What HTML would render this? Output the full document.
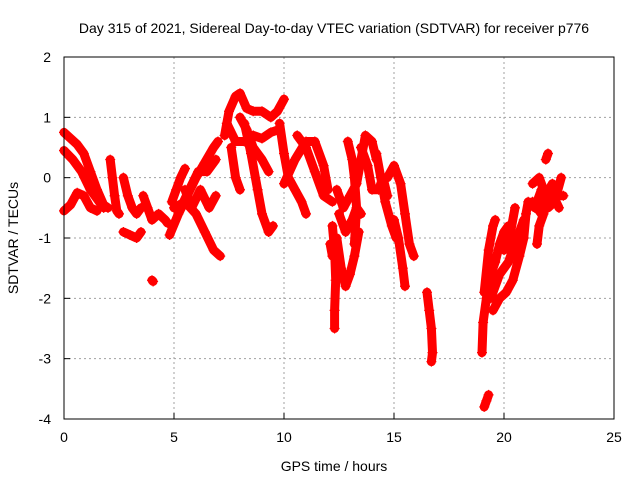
<!DOCTYPE html>
<html><head><meta charset="utf-8"><style>
body{margin:0;background:#fff}
svg{display:block;font-family:"Liberation Sans",sans-serif}
</style></head><body>
<svg id="chart" width="640" height="480" viewBox="0 0 640 480">
<rect width="640" height="480" fill="#fff"/>
<text x="334" y="33" font-size="14" text-anchor="middle">Day 315 of 2021, Sidereal Day-to-day VTEC variation (SDTVAR) for receiver p776</text>
<text x="334" y="471" font-size="14" text-anchor="middle">GPS time / hours</text>
<text x="0" y="0" font-size="14" text-anchor="middle" transform="translate(18,238) rotate(-90)">SDTVAR / TECUs</text>
<g id="grid"></g><g id="marks"></g><g id="axes"></g>
</svg>
<script>
const xTicks=[0,5,10,15,20,25];
const yTicks=[-4,-3,-2,-1,0,1,2];
const tracks=[
[[0,0.75],[0.3,0.65],[0.6,0.55],[0.9,0.4],[1.2,0.1],[1.5,-0.2],[1.8,-0.45],[2.0,-0.5]],
[[0,0.45],[0.4,0.3],[0.8,0.1],[1.2,-0.2],[1.5,-0.35],[1.8,-0.5]],
[[0,-0.55],[0.3,-0.45],[0.6,-0.25],[0.9,-0.3],[1.2,-0.5],[1.5,-0.55]],
[[2.1,0.3],[2.2,0.0],[2.3,-0.3],[2.4,-0.55],[2.5,-0.6]],
[[2.7,0.0],[2.9,-0.3],[3.1,-0.5],[3.3,-0.6],[3.5,-0.5]],
[[2.7,-0.9],[3.0,-0.95],[3.3,-1.0],[3.5,-0.9]],
[[3.6,-0.3],[3.8,-0.5],[4.0,-0.7],[4.3,-0.6],[4.6,-0.7],[4.7,-0.75]],
[[4.0,-1.7],[4.05,-1.72]],
[[4.9,-0.4],[5.1,-0.2],[5.3,0.0],[5.5,0.15]],
[[4.8,-0.95],[5.2,-0.6],[5.6,-0.3],[6.0,0.0],[6.4,0.25],[6.8,0.5],[7.0,0.6]],
[[5.0,-0.5],[5.5,-0.4],[6.0,-0.6],[6.4,-0.9],[6.8,-1.2],[7.1,-1.3]],
[[5.5,-0.2],[5.8,-0.5],[6.2,-0.2],[6.6,-0.5],[6.9,-0.3]],
[[5.3,-0.5],[5.7,-0.2],[6.1,0.1],[6.5,0.1],[6.9,0.3]],
[[7.3,0.7],[7.5,1.1],[7.8,1.35],[8.0,1.4],[8.3,1.15],[8.6,1.1],[9.0,1.1],[9.4,1.0],[9.7,1.1],[10.0,1.3]],
[[7.4,0.9],[7.8,0.6],[8.2,0.6],[8.6,0.7],[9.0,0.65],[9.4,0.75],[9.8,0.8]],
[[8.2,0.9],[8.5,0.4],[8.8,-0.2],[9.0,-0.6],[9.3,-0.9],[9.5,-0.8]],
[[7.6,0.5],[7.8,0.0],[8.0,-0.2]],
[[8.0,1.0],[8.3,0.8],[8.6,0.5],[9.0,0.3],[9.3,0.1]],
[[9.8,0.9],[10.0,0.4],[10.2,0.0],[10.5,-0.2],[10.8,-0.4],[11.0,-0.6]],
[[10.0,-0.1],[10.5,0.3],[11.0,0.6],[11.4,0.6],[11.8,0.2],[12.0,-0.2]],
[[10.6,0.7],[11.0,0.5],[11.4,0.1],[11.8,-0.3],[12.2,-0.4]],
[[12.1,-1.1],[12.2,-1.3]],
[[12.2,-0.8],[12.3,-1.2],[12.35,-1.7],[12.3,-2.2],[12.3,-2.5]],
[[12.4,-1.0],[12.6,-1.5],[12.8,-1.8],[13.0,-1.6],[13.2,-1.3],[13.4,-0.9]],
[[12.4,-0.2],[12.7,-0.5],[13.0,-0.3],[13.3,-0.1],[13.5,0.3],[13.7,0.7],[14.0,0.6],[14.2,0.3]],
[[12.5,-0.6],[12.8,-0.9],[13.1,-0.7],[13.3,-0.5],[13.5,-0.6]],
[[13.5,0.5],[13.8,0.2],[14.0,-0.2],[14.3,-0.2],[14.5,0.0],[14.7,-0.3]],
[[12.9,0.6],[13.1,0.3],[13.2,0.0],[13.3,-0.5],[13.2,-1.1]],
[[14.2,0.4],[14.4,0.0],[14.6,-0.4],[14.9,-0.8],[15.1,-1.0]],
[[14.7,0.0],[15.0,0.2],[15.3,-0.1],[15.5,-0.6],[15.7,-1.1],[15.9,-1.3]],
[[15.0,-0.7],[15.2,-1.0],[15.4,-1.5],[15.5,-1.8]],
[[16.5,-1.9],[16.6,-2.2],[16.7,-2.5],[16.75,-2.9],[16.7,-3.05]],
[[19.1,-3.8],[19.2,-3.7],[19.3,-3.6]],
[[19.0,-2.9],[19.05,-2.4],[19.2,-2.0],[19.4,-1.6],[19.6,-1.4],[19.8,-1.1],[20.0,-0.9],[20.2,-0.8]],
[[19.1,-1.9],[19.3,-1.2],[19.5,-0.8],[19.6,-0.7]],
[[19.5,-2.2],[19.8,-2.0],[20.1,-1.9],[20.4,-1.7],[20.7,-1.3],[20.9,-1.0],[21.0,-0.6],[21.1,-0.4]],
[[20.0,-1.2],[20.3,-0.9],[20.5,-0.5]],
[[19.4,-2.0],[19.8,-1.6],[20.2,-1.4],[20.6,-1.0],[20.9,-0.7]],
[[21.3,-0.1],[21.6,0.0],[21.9,-0.3],[22.2,-0.1],[22.5,-0.3],[22.7,-0.3]],
[[21.4,-0.5],[21.7,-0.2],[22.0,-0.5],[22.3,-0.4],[22.6,0.0]],
[[21.5,-1.1],[21.6,-0.8],[21.8,-0.6]],
[[21.3,-0.4],[21.7,-0.6],[22.1,-0.2],[22.5,-0.5]],
[[21.9,0.3],[22.0,0.4]]
];
const L=64,R=614,T=57,B=419,X0=0,X1=25,Y0=-4,Y1=2;
const sx=v=>L+(v-X0)/(X1-X0)*(R-L);
const sy=v=>B-(v-Y0)/(Y1-Y0)*(B-T);
const NS="http://www.w3.org/2000/svg";
function mk(tag,attrs,parent){const e=document.createElementNS(NS,tag);for(const k in attrs)e.setAttribute(k,attrs[k]);parent.appendChild(e);return e;}
const grid=document.getElementById('grid'),marks=document.getElementById('marks'),axes=document.getElementById('axes');
xTicks.forEach(t=>{
  if(t>X0&&t<X1){const g=mk('line',{x1:sx(t),x2:sx(t),y1:T,y2:B,stroke:'#a0a0a0','stroke-dasharray':'2,3'},grid);
  
  }
  const tk=mk('line',{x1:sx(t),x2:sx(t),y1:B,y2:B-6,stroke:'#000'},axes);
  
  
  const tx=mk('text',{x:sx(t),y:B+23,'font-size':14,'text-anchor':'middle'},axes);tx.textContent=t;
  
  
});
yTicks.forEach(t=>{
  if(t>Y0&&t<Y1){const g=mk('line',{x1:L,x2:R,y1:sy(t),y2:sy(t),stroke:'#a0a0a0','stroke-dasharray':'2,3'},grid);
  
  }
  const tk=mk('line',{x1:L,x2:L+6,y1:sy(t),y2:sy(t),stroke:'#000'},axes);
  
  
  const tx=mk('text',{x:L-13,y:sy(t)+5,'font-size':14,'text-anchor':'end'},axes);tx.textContent=t;
  
  
});
const fr=mk('rect',{x:L,y:T,width:R-L,height:B-T,fill:'none',stroke:'#000'},axes);


tracks.forEach(tr=>{
  const pl=mk('polyline',{points:tr.map(p=>sx(p[0])+','+sy(p[1])).join(' '),fill:'none',stroke:'#ff0000','stroke-width':9,'stroke-linejoin':'round','stroke-linecap':'round'},marks);
  
  
  tr.forEach(p=>{
    const x=sx(p[0]),y=sy(p[1]);
    const m=mk('path',{d:`M${x-5},${y}H${x+5}M${x},${y-5}V${y+5}`,stroke:'#ff0000','stroke-width':1.2},marks);
    
    
  });
});
</script>
</body></html>
